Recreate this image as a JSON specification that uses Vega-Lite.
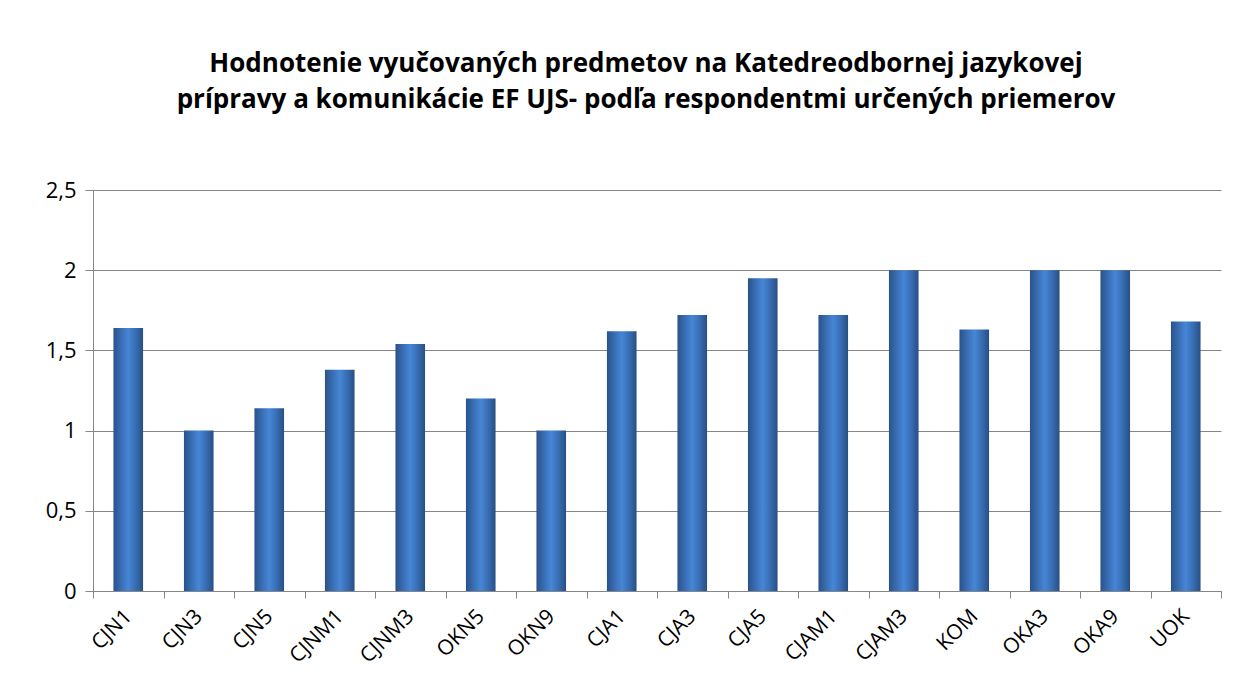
{
  "$schema": "https://vega.github.io/schema/vega-lite/v6.json",
  "width": 1128,
  "height": 401,
  "autosize": {"type": "none"},
  "padding": {"left": 93, "top": 190, "right": 15, "bottom": 96},
  "background": "white",
  "title": {
    "text": ["Hodnotenie vyučovaných predmetov na Katedreodbornej jazykovej", "prípravy a komunikácie EF UJS- podľa respondentmi určených priemerov"],
    "font": "Open Sans",
    "fontSize": 26,
    "fontWeight": "bold",
    "color": "#000000",
    "anchor": "middle",
    "lineHeight": 36,
    "offset": 66,
    "dx": -11
  },
  "data": {
    "values": [
      {"predmet": "CJN1", "priemer": 1.64},
      {"predmet": "CJN3", "priemer": 1.0},
      {"predmet": "CJN5", "priemer": 1.14},
      {"predmet": "CJNM1", "priemer": 1.38},
      {"predmet": "CJNM3", "priemer": 1.54},
      {"predmet": "OKN5", "priemer": 1.2},
      {"predmet": "OKN9", "priemer": 1.0},
      {"predmet": "CJA1", "priemer": 1.62},
      {"predmet": "CJA3", "priemer": 1.72},
      {"predmet": "CJA5", "priemer": 1.95},
      {"predmet": "CJAM1", "priemer": 1.72},
      {"predmet": "CJAM3", "priemer": 2.0},
      {"predmet": "KOM", "priemer": 1.63},
      {"predmet": "OKA3", "priemer": 2.0},
      {"predmet": "OKA9", "priemer": 2.0},
      {"predmet": "UOK", "priemer": 1.68}
    ]
  },
  "mark": {
    "type": "bar",
    "width": {"band": 0.42},
    "color": {
      "gradient": "linear",
      "x1": 0, "x2": 1, "y1": 0, "y2": 0,
      "stops": [
        {"offset": 0, "color": "#2a5288"},
        {"offset": 0.25, "color": "#386db3"},
        {"offset": 0.5, "color": "#4686d6"},
        {"offset": 0.75, "color": "#386db3"},
        {"offset": 1, "color": "#284f84"}
      ]
    }
  },
  "encoding": {
    "x": {
      "field": "predmet",
      "type": "nominal",
      "sort": null,
      "scale": {"paddingInner": 0, "paddingOuter": 0},
      "axis": {
        "title": null,
        "labelAngle": -45,
        "labelAlign": "right",
        "labelBaseline": "middle",
        "labelFont": "Open Sans",
        "labelFontSize": 21,
        "labelColor": "#000000",
        "labelPadding": 15,
        "tickBand": "extent",
        "tickSize": 7,
        "tickColor": "#868686",
        "domainColor": "#868686",
        "grid": false
      }
    },
    "y": {
      "field": "priemer",
      "type": "quantitative",
      "scale": {"domain": [0, 2.5], "nice": false},
      "axis": {
        "title": null,
        "values": [0, 0.5, 1, 1.5, 2, 2.5],
        "labelExpr": "replace(toString(datum.value), '.', ',')",
        "labelFont": "Open Sans",
        "labelFontSize": 22,
        "labelColor": "#000000",
        "labelPadding": 9,
        "tickSize": 8,
        "tickColor": "#868686",
        "domainColor": "#868686",
        "gridColor": "#868686",
        "gridWidth": 1
      }
    }
  },
  "config": {
    "view": {"stroke": null}
  }
}
